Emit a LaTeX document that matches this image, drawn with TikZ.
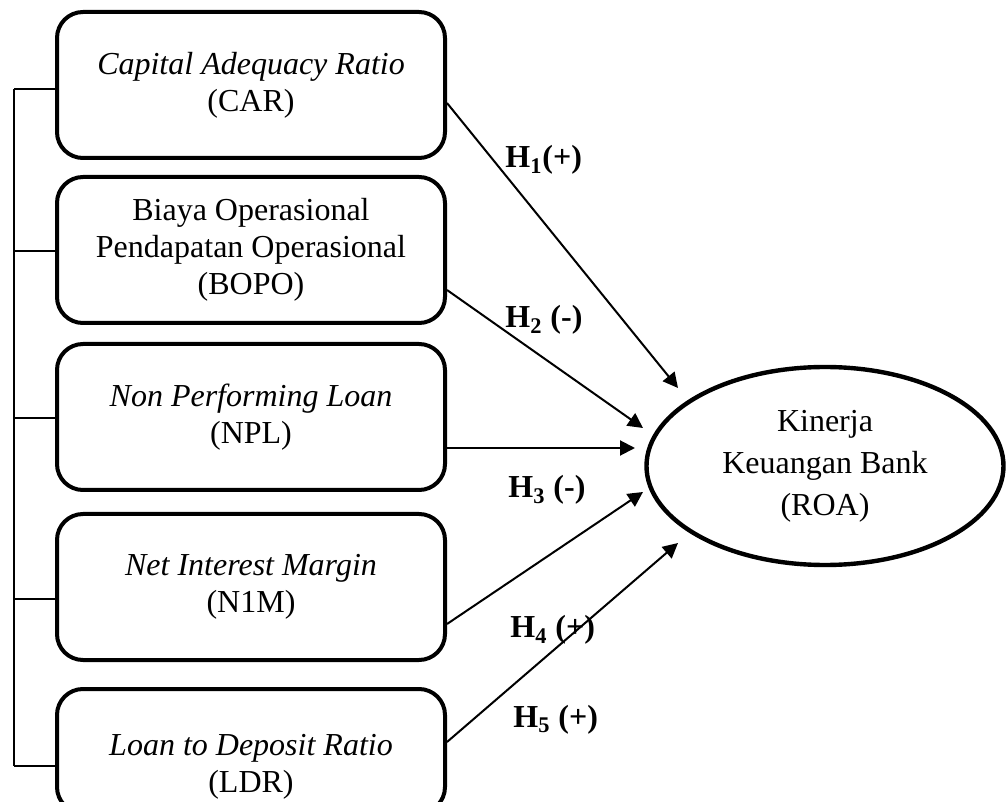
\documentclass[tikz,border=0pt]{standalone}
\usepackage{fontspec}
\setmainfont{Liberation Serif}
\usetikzlibrary{shapes.geometric,arrows.meta}

\begin{document}
\begin{tikzpicture}[x=0.5pt,y=-0.5pt]
\tikzstyle{every node}+=[inner sep=0pt]
\tikzstyle{varbox}=[draw=black, line width=2pt, rounded corners=13pt, minimum width=194pt, minimum height=73pt, align=center, font=\fontsize{16}{18.5}\selectfont]
\tikzstyle{hyp}=[black, line width=1pt, -{Triangle[length=7.5pt,width=7.5pt]}]
\tikzstyle{hlabel}=[anchor=base west, font=\fontsize{16}{18}\selectfont\bfseries]
\useasboundingbox (0,0) rectangle (1008,802);
\node [varbox] (car) at (251,85) {\textit{Capital Adequacy Ratio}\\(CAR)};
\node [varbox] (bopo) at (251,250) {Biaya Operasional\\Pendapatan Operasional\\(BOPO)};
\node [varbox] (npl) at (251,417) {\textit{Non Performing Loan}\\(NPL)};
\node [varbox] (nim) at (251,587) {\textit{Net Interest Margin}\\(N1M)};
\node [varbox, minimum height=62pt] (ldr) at (251,751) {};
\node [align=center, font=\fontsize{16}{18.5}\selectfont] (ldrtext) at (251,767) {\textit{Loan to Deposit Ratio}\\(LDR)};
\node [draw=black, ellipse, line width=2.2pt, minimum width=178.5pt, minimum height=99pt, align=center, font=\fontsize{16}{21}\selectfont] (roa) at (825,466) {Kinerja\\Keuangan Bank\\(ROA)};
\coordinate (bartop) at (14,89);
\coordinate (barbot) at (14,766);
\draw [black, line width=0.8pt] (bartop) -- (barbot);
\foreach \n/\s in {car/-2pt, bopo/-0.5pt, npl/-0.5pt, nim/-6pt, ldr/-7.5pt}
  \draw [black, line width=0.8pt] ([yshift=\s]\n.west) -- ++(-41,0);
\coordinate (e1) at (678,388);
\coordinate (e2) at (643,428);
\coordinate (e3) at (635,448);
\coordinate (e4) at (643,492);
\coordinate (e5) at (678,543);
\draw [hyp] ([yshift=-9pt]car.east) -- (e1);
\draw [hyp] ([yshift=-20pt]bopo.east) -- (e2);
\draw [hyp] ([yshift=-15.5pt]npl.east) -- (e3);
\draw [hyp] ([yshift=-18.5pt]nim.east) -- (e4);
\draw [hyp] ([yshift=4.5pt]ldr.east) -- (e5);
\node [hlabel] (h1) at (505,168) {H\textsubscript{1}(+)};
\node [hlabel] (h2) at (505,328) {H\textsubscript{2} (-)};
\node [hlabel] (h3) at (508,498) {H\textsubscript{3} (-)};
\node [hlabel] (h4) at (510,638) {H\textsubscript{4} (+)};
\node [hlabel] (h5) at (513,727) {H\textsubscript{5} (+)};
\end{tikzpicture}
\end{document}
